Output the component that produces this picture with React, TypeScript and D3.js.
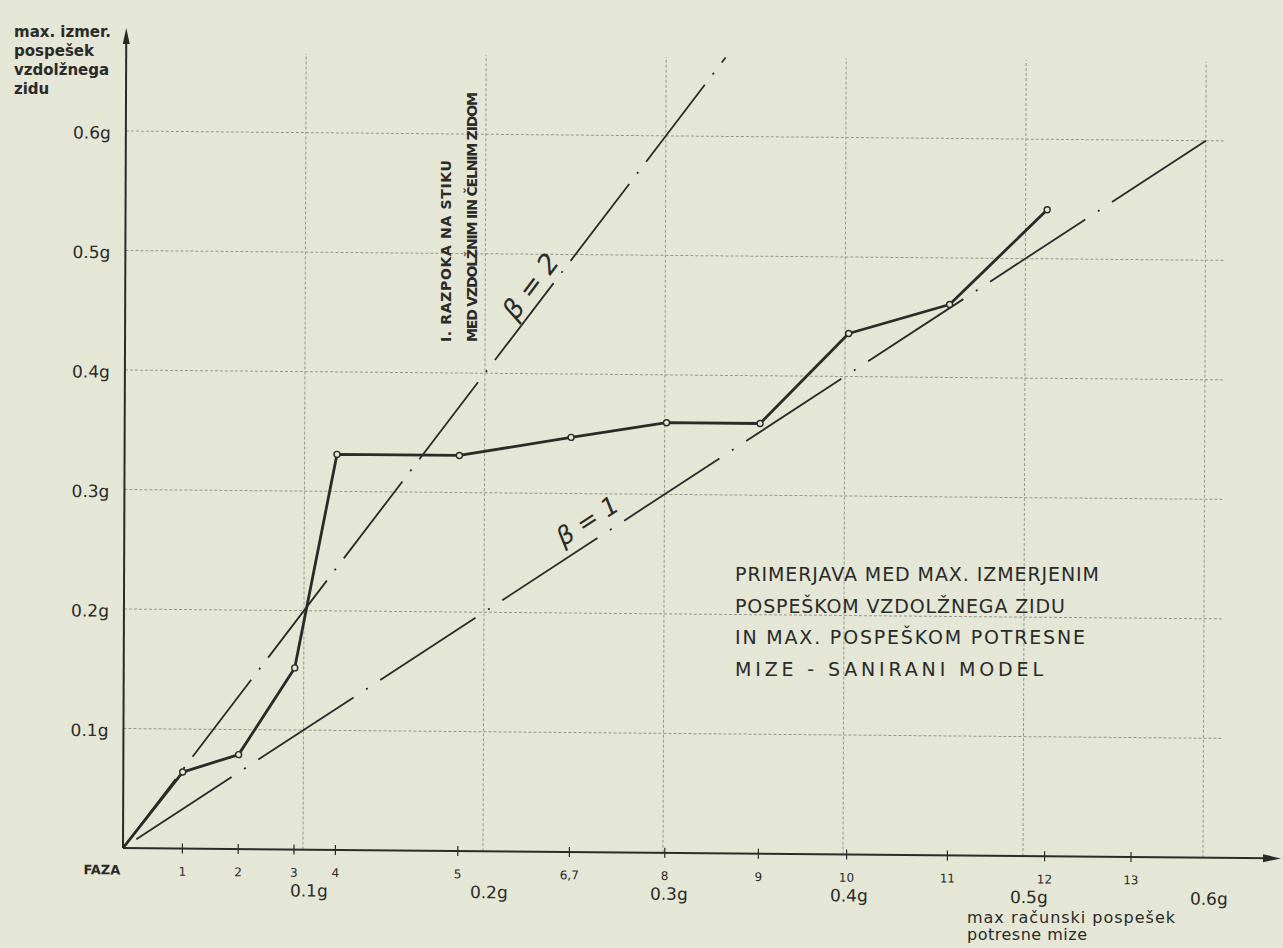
import { useEffect, useRef } from "react";
import * as d3 from "d3";

// faze preizkusa in pospeski (v g), odcitano s slike
const phaseLabels = ["1", "2", "3", "4", "5", "6,7", "8", "9", "10", "11", "12", "13"];
const phaseAccel = [0.033, 0.064, 0.095, 0.118, 0.186, 0.248, 0.301, 0.353, 0.402, 0.458, 0.512, 0.56];
const measuredAccel = [0.064, 0.079, 0.152, 0.331, 0.331, 0.347, 0.36, 0.36, 0.436, 0.461, 0.541];
const gTicks = [0.1, 0.2, 0.3, 0.4, 0.5, 0.6];
const gTickLabels = ["0.1g", "0.2g", "0.3g", "0.4g", "0.5g", "0.6g"];
const betaValues = [1, 2];
const betaXEnd = [0.6, 0.333];

const yTitle = ["max. izmer.", "pospešek", "vzdolžnega", "zidu"];
const xTitle = ["max računski pospešek", "potresne mize"];
const crackNote = ["I. RAZPOKA NA STIKU", "MED VZDOLŽNIM IIN ČELNIM ZIDOM"];
const boxNote = [
  "PRIMERJAVA MED MAX. IZMERJENIM",
  "POSPEŠKOM VZDOLŽNEGA ZIDU",
  "IN MAX. POSPEŠKOM POTRESNE",
  "MIZE - SANIRANI MODEL",
];

export default function App() {
  const svgRef = useRef<SVGSVGElement>(null);

  useEffect(() => {
    if (!svgRef.current) return;
    const svg = d3.select(svgRef.current);
    svg.selectAll("*").remove();

    const width = 1283;
    const height = 948;
    const ox = 123;
    const oy = 848;
    const ink = "#2a2a28";
    const paper = "#e4e6d6";
    const grid = "#96988c";
    const font = "'DejaVu Sans', sans-serif";

    svg.append("rect").attr("width", width).attr("height", height).style("fill", paper);

    const x = d3.scaleLinear().domain([0, 0.6]).range([ox, ox + 1080]);
    const y = d3.scaleLinear().domain([0, 0.6]).range([oy, oy - 717]);

    // scan is a bit skewed
    const g = svg.append("g")
      .attr("transform", `translate(${ox},${oy}) matrix(1,0.009,-0.004,1,0,0) translate(${-ox},${-oy})`);

    // grid
    g.selectAll(".vgrid")
      .data(gTicks)
      .enter()
      .append("line")
      .attr("x1", d => x(d))
      .attr("x2", d => x(d))
      .attr("y1", y(0))
      .attr("y2", y(0.666))
      .style("stroke", grid)
      .style("stroke-width", 1)
      .style("stroke-dasharray", "3 2");

    g.selectAll(".hgrid")
      .data(gTicks)
      .enter()
      .append("line")
      .attr("x1", x(0))
      .attr("x2", x(0.61))
      .attr("y1", d => y(d))
      .attr("y2", d => y(d))
      .style("stroke", grid)
      .style("stroke-width", 1)
      .style("stroke-dasharray", "3 2");

    // axes
    g.append("line")
      .attr("x1", ox).attr("y1", oy)
      .attr("x2", ox + 1150).attr("y2", oy)
      .style("stroke", ink).style("stroke-width", 2);
    g.append("path")
      .attr("d", `M${ox + 1158},${oy} L${ox + 1140},${oy - 4} L${ox + 1140},${oy + 4} Z`)
      .style("fill", ink);

    g.append("line")
      .attr("x1", ox).attr("y1", oy)
      .attr("x2", ox).attr("y2", oy - 812)
      .style("stroke", ink).style("stroke-width", 2);
    g.append("path")
      .attr("d", `M${ox},${oy - 820} L${ox - 3.5},${oy - 804} L${ox + 3.5},${oy - 804} Z`)
      .style("fill", ink);

    // phase ticks + labels
    g.selectAll(".ptick")
      .data(phaseAccel)
      .enter()
      .append("line")
      .attr("x1", d => x(d)).attr("x2", d => x(d))
      .attr("y1", oy - 5).attr("y2", oy + 5)
      .style("stroke", ink).style("stroke-width", 1.2);

    g.selectAll(".plabel")
      .data(phaseLabels)
      .enter()
      .append("text")
      .attr("x", (d, i) => x(phaseAccel[i]))
      .attr("y", oy + 23)
      .attr("dy", "0.35em")
      .attr("text-anchor", "middle")
      .style("font-family", font)
      .style("font-size", "12px")
      .style("fill", ink)
      .text(d => d);

    g.append("text")
      .attr("x", 102)
      .attr("y", oy + 22)
      .attr("dy", "0.35em")
      .attr("text-anchor", "middle")
      .style("font-family", font)
      .style("font-size", "13px")
      .style("font-weight", "bold")
      .style("fill", ink)
      .text("FAZA");

    g.selectAll(".xg")
      .data(gTicks)
      .enter()
      .append("text")
      .attr("x", d => x(d) + 6)
      .attr("y", oy + 41)
      .attr("dy", "0.35em")
      .attr("text-anchor", "middle")
      .style("font-family", font)
      .style("font-size", "17px")
      .style("font-weight", "500")
      .style("fill", ink)
      .text((d, i) => gTickLabels[i]);

    g.selectAll(".yg")
      .data(gTicks)
      .enter()
      .append("text")
      .attr("x", ox - 15)
      .attr("y", d => y(d) + 2)
      .attr("dy", "0.35em")
      .attr("text-anchor", "end")
      .style("font-family", font)
      .style("font-size", "17px")
      .style("font-weight", "500")
      .style("fill", ink)
      .text((d, i) => gTickLabels[i]);

    // beta lines
    const dash = ["114 15 2 15", "97 13 2 13"];
    const dashOff = [130, 10];
    betaValues.forEach((b, i) => {
      g.append("line")
        .attr("x1", x(0)).attr("y1", y(0))
        .attr("x2", x(betaXEnd[i])).attr("y2", y(b * betaXEnd[i]))
        .style("stroke", ink)
        .style("stroke-width", 1.8)
        .style("stroke-dasharray", dash[i])
        .style("stroke-dashoffset", dashOff[i]);
    });

    // measured curve
    const pts: [number, number][] = [[0, 0]].concat(
      measuredAccel.map((v, i) => [phaseAccel[i], v])
    ) as [number, number][];

    const line = d3.line<[number, number]>()
      .x(d => x(d[0]))
      .y(d => y(d[1]));

    g.append("path")
      .datum(pts)
      .attr("d", line)
      .style("fill", "none")
      .style("stroke", ink)
      .style("stroke-width", 2.8)
      .style("stroke-linejoin", "round");

    g.selectAll(".pt")
      .data(pts.slice(1))
      .enter()
      .append("circle")
      .attr("cx", d => x(d[0]))
      .attr("cy", d => y(d[1]))
      .attr("r", 3)
      .style("fill", paper)
      .style("stroke", ink)
      .style("stroke-width", 1.4);

    // titles
    const yt = svg.append("text")
      .style("font-family", font)
      .style("font-size", "15px")
      .style("font-weight", "bold")
      .style("fill", ink);
    yTitle.forEach((t, i) => {
      yt.append("tspan").attr("x", 14).attr("y", 37 + i * 19).text(t);
    });

    const xt = svg.append("text")
      .style("font-family", font)
      .style("font-size", "16px")
      .style("font-weight", "500")
      .style("fill", ink);
    const xtLen = [208, 120];
    xTitle.forEach((t, i) => {
      xt.append("tspan")
        .attr("x", 967)
        .attr("y", 923 + i * 17)
        .attr("textLength", xtLen[i])
        .attr("lengthAdjust", "spacing")
        .text(t);
    });

    // crack note, vertical
    const crackLen = [182, 250];
    crackNote.forEach((t, i) => {
      svg.append("text")
        .attr("transform", `translate(${451 + i * 26},342) rotate(-90)`)
        .attr("textLength", crackLen[i])
        .attr("lengthAdjust", "spacing")
        .style("font-family", font)
        .style("font-size", "14px")
        .style("font-weight", "bold")
        .style("fill", ink)
        .text(t);
    });

    // beta labels
    svg.append("text")
      .attr("transform", "translate(538,292) rotate(-53)")
      .attr("text-anchor", "middle")
      .style("font-family", font)
      .style("font-size", "27px")
      .style("font-style", "italic")
      .style("fill", ink)
      .text("β = 2");

    svg.append("text")
      .attr("transform", "translate(592,528) rotate(-33)")
      .attr("text-anchor", "middle")
      .style("font-family", font)
      .style("font-size", "25px")
      .style("font-style", "italic")
      .style("fill", ink)
      .text("β = 1");

    // box note
    const boxLen = [364, 330, 350, 308];
    boxNote.forEach((t, i) => {
      svg.append("text")
        .attr("x", 735)
        .attr("y", 581 + i * 31.5)
        .attr("textLength", boxLen[i])
        .attr("lengthAdjust", "spacing")
        .style("font-family", font)
        .style("font-size", "19px")
        .style("fill", ink)
        .text(t);
    });
  }, []);

  return (
    <svg
      ref={svgRef}
      width={1283}
      height={948}
      style={{ position: "absolute", left: 0, top: 0, display: "block" }}
    />
  );
}
